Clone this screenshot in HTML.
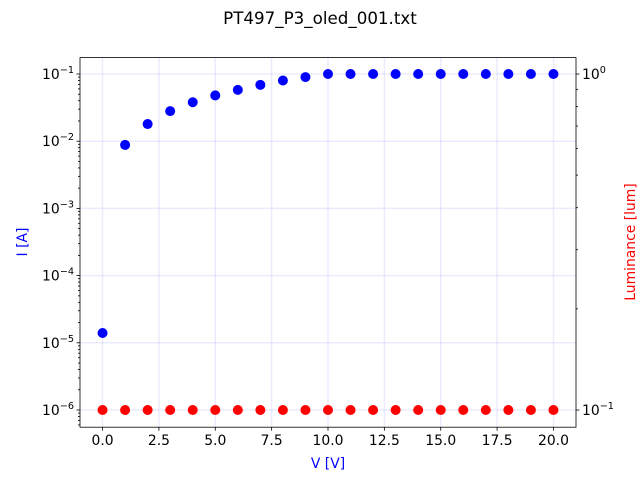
<!DOCTYPE html>
<html><head><meta charset="utf-8"><style>body{margin:0;background:#fff}svg{display:block}text{font-family:"DejaVu Sans","Liberation Sans",sans-serif}</style></head>
<body>
<svg id="chart" width="640" height="480" xmlns="http://www.w3.org/2000/svg"></svg>
<script>
const voltages=[0,1,2,3,4,5,6,7,8,9,10,11,12,13,14,15,16,17,18,19,20];
const currents=[1.4e-5,0.0088,0.018,0.028,0.038,0.048,0.058,0.069,0.08,0.09,0.1,0.1,0.1,0.1,0.1,0.1,0.1,0.1,0.1,0.1,0.1];
const luminance=[0.1,0.1,0.1,0.1,0.1,0.1,0.1,0.1,0.1,0.1,0.1,0.1,0.1,0.1,0.1,0.1,0.1,0.1,0.1,0.1,0.1];
const xTicks=[0,2.5,5,7.5,10,12.5,15,17.5,20];
const xTickLabels=["0.0","2.5","5.0","7.5","10.0","12.5","15.0","17.5","20.0"];
const yLeftExps=[-6,-5,-4,-3,-2,-1];

const L=80,R=576,T=57.6,B=427.2;
const X=v=>L+(v+1)/22*(R-L);
const YL=v=>410-(Math.log10(v)+6)*67.2;
const YR=v=>74-Math.log10(v)*336;
const svg=document.getElementById('chart');
const NS='http://www.w3.org/2000/svg';
function el(t,a,p){const e=document.createElementNS(NS,t);for(const k in a)e.setAttribute(k,a[k]);(p||svg).appendChild(e);return e;}

let e;
e=el('text',{x:320,y:24,'text-anchor':'middle','font-size':16.7});e.textContent='PT497_P3_oled_001.txt';



const grid=el('g',{stroke:'#0000ff','stroke-opacity':0.08,'stroke-width':1.5});


xTicks.forEach(t=>el('line',{x1:X(t),x2:X(t),y1:T,y2:B},grid));
yLeftExps.forEach(p=>el('line',{x1:L,x2:R,y1:YL(Math.pow(10,p)),y2:YL(Math.pow(10,p))},grid));

const ax=el('g',{stroke:'#000','stroke-width':0.8});


xTicks.forEach((t,i)=>{el('line',{x1:X(t),x2:X(t),y1:B,y2:B+3.5},ax);
 const tx=el('text',{x:X(t),y:B+18,'text-anchor':'middle','font-size':13.9,stroke:'none'});tx.textContent=xTickLabels[i];
 
 });
for(let p=-7;p<=-1;p++){for(let m=2;m<=9;m++){const y=YL(m*Math.pow(10,p));if(y>T&&y<B)el('line',{x1:L-2,x2:L,y1:y,y2:y},ax);}}
yLeftExps.forEach(p=>{const y=YL(Math.pow(10,p));el('line',{x1:L-3.5,x2:L,y1:y,y2:y},ax);
 const tx=el('text',{x:L-6,y:y+5,'text-anchor':'end','font-size':13.9,stroke:'none'});tx.innerHTML='10<tspan dy="-6" font-size="9.7">\u2212'+(-p)+'</tspan>';
 
 });
for(let m=2;m<=9;m++){const y=YR(m/10);el('line',{x1:R,x2:R+2,y1:y,y2:y},ax);}
[[1,'0'],[0.1,'\u22121']].forEach(([v,s])=>{const y=YR(v);el('line',{x1:R,x2:R+3.5,y1:y,y2:y},ax);
 const tx=el('text',{x:R+6,y:y+5,'font-size':13.9,stroke:'none'});tx.innerHTML='10<tspan dy="-6" font-size="9.7">'+s+'</tspan>';
 
 });

const ser1=el('g',{fill:'#0000ff'});


voltages.forEach((v,i)=>{const c=el('circle',{cx:X(v),cy:YL(currents[i]),r:5},ser1);
 
 });
const ser2=el('g',{fill:'#ff0000'});


voltages.forEach((v,i)=>{const c=el('circle',{cx:X(v),cy:YR(luminance[i]),r:5},ser2);
 
 });

e=el('rect',{x:L,y:T,width:R-L,height:B-T,fill:'none',stroke:'#000','stroke-width':0.8});


e=el('text',{x:328,y:468,'text-anchor':'middle','font-size':13.9,fill:'#0000ff'});e.textContent='V [V]';


e=el('text',{x:27,y:242,'text-anchor':'middle','font-size':13.9,fill:'#0000ff',transform:'rotate(-90 27 242)'});e.textContent='I [A]';


e=el('text',{x:635,y:242,'text-anchor':'middle','font-size':13.9,fill:'#ff0000',transform:'rotate(-90 635 242)'});e.textContent='Luminance [lum]';


</script>
</body></html>
